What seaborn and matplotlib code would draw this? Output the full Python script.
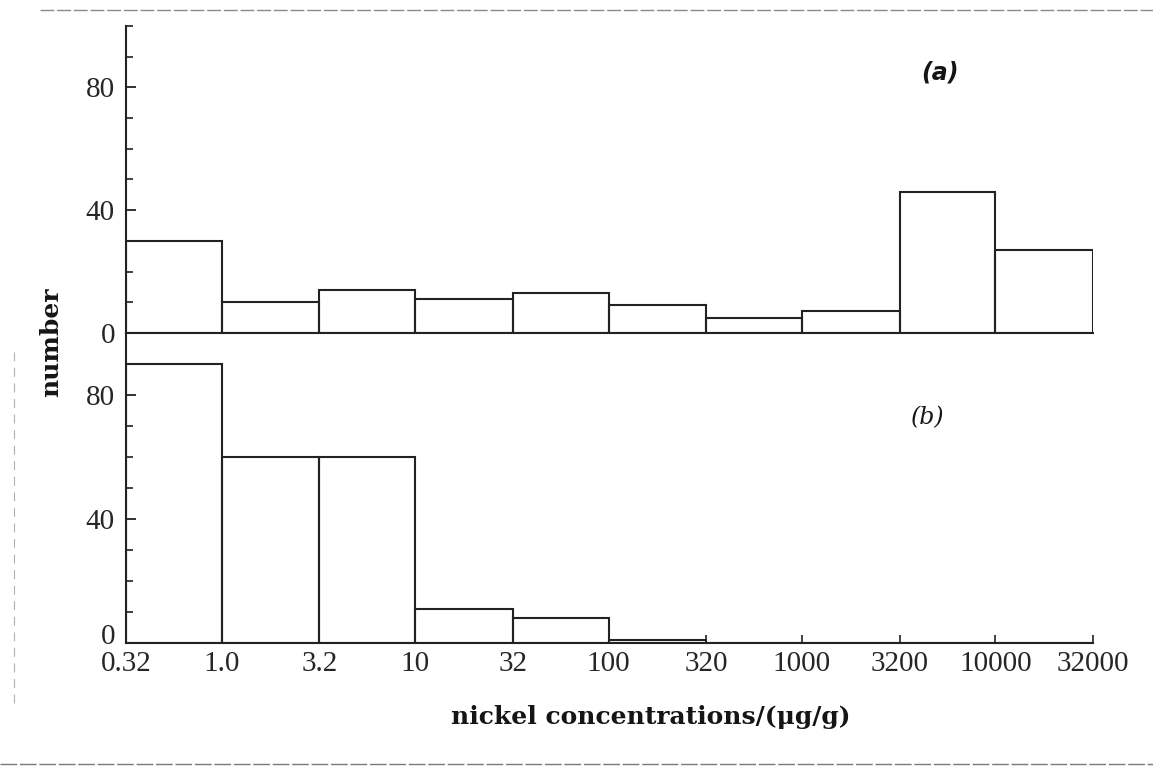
import numpy as np
import pandas as pd
import matplotlib
matplotlib.use("Agg")
import matplotlib.pyplot as plt
import matplotlib.transforms as mtransforms
from matplotlib.lines import Line2D
from matplotlib.ticker import FixedLocator, NullLocator, NullFormatter
import seaborn as sns

# Half-decade concentration classes (µg/g) and the number of samples in each
bin_edges = [0.32, 1.0, 3.2, 10, 32, 100, 320, 1000, 3200, 10000, 32000]
edge_labels = ["0.32", "1.0", "3.2", "10", "32", "100", "320", "1000", "3200", "10000", "32000"]
counts_a = [30, 10, 14, 11, 13, 9, 5, 7, 46, 27]
counts_b = [90, 60, 60, 11, 8, 1, 0, 0, 0, 0]
panel_labels = ["(a)", "(b)"]

sns.set_theme(style="white")
plt.rcParams["font.family"] = ["Liberation Serif", "DejaVu Serif"]
plt.rcParams["text.color"] = "#151515"

INK = "#222222"

fig = plt.figure(figsize=(11.53, 7.72), dpi=100)
ax_a = fig.add_axes([0.1093, 0.5687, 0.8387, 0.3977])
ax_b = fig.add_axes([0.1093, 0.1671, 0.8387, 0.4016])

edges = np.array(bin_edges, dtype=float)
mids = np.sqrt(edges[:-1] * edges[1:])
log_edges = [float(v) for v in np.log10(edges)]

for ax, counts in [(ax_a, counts_a), (ax_b, counts_b)]:
    df = pd.DataFrame({"conc": mids, "n": counts})
    sns.histplot(data=df, x="conc", weights="n", bins=log_edges,
                 log_scale=True, element="bars", fill=False,
                 color=INK, linewidth=1.5, ax=ax)
    ax.set_xlim(bin_edges[0], bin_edges[-1])
    ax.set_ylim(0, 100)
    ax.set_xlabel("")
    ax.set_ylabel("")
    ax.yaxis.set_major_locator(FixedLocator([0, 40, 80]))
    ax.yaxis.set_minor_locator(FixedLocator(list(range(0, 101, 10))))
    ax.tick_params(axis="y", which="major", direction="in", length=7, width=1.3,
                   color=INK, labelsize=21, pad=8, left=True)
    ax.tick_params(axis="y", which="minor", direction="in", length=5, width=1.2,
                   color=INK, left=True)
    ax.xaxis.set_minor_locator(NullLocator())
    for side in ["top", "right"]:
        ax.spines[side].set_visible(False)
    for side in ["left", "bottom"]:
        ax.spines[side].set_color(INK)
        ax.spines[side].set_linewidth(1.5)
    ax.set_facecolor("none")

# upper panel: no concentration ticks, baseline only
ax_a.xaxis.set_major_locator(NullLocator())
ax_a.xaxis.set_major_formatter(NullFormatter())

# lower panel carries the concentration scale
ax_b.xaxis.set_major_locator(FixedLocator(bin_edges))
ax_b.set_xticklabels(edge_labels)
ax_b.tick_params(axis="x", which="major", direction="in", length=6, width=1.2,
                 color=INK, labelsize=21, pad=6, bottom=True)

# lift the lower panel's zero label clear of the concentration labels
fig.canvas.draw()
zero_lbl = ax_b.get_yticklabels()[0]
zero_lbl.set_transform(zero_lbl.get_transform() +
                       mtransforms.ScaledTranslation(0, 9 / 100, fig.dpi_scale_trans))

ax_a.text(0.842, 0.847, panel_labels[0], transform=ax_a.transAxes, fontsize=17,
          family=["DejaVu Sans"], style="italic", fontweight="bold",
          ha="center", va="center")
ax_b.text(0.829, 0.726, panel_labels[1], transform=ax_b.transAxes, fontsize=17,
          family=["DejaVu Serif"], style="italic",
          ha="center", va="center")

fig.text(51 / 1153, 1 - 342 / 772, "number", rotation=90, ha="center", va="center",
         fontsize=18, fontweight="bold", family=["DejaVu Serif"])
fig.text(651 / 1153, 1 - 717 / 772, "nickel concentrations/(\u03bcg/g)",
         ha="center", va="center", fontsize=18, fontweight="bold",
         family=["DejaVu Serif"])

# page rules above and below the figure
fig.add_artist(Line2D([0.035, 1.0], [0.987, 0.987], transform=fig.transFigure,
                      color="#8a8a8a", linewidth=1.0, linestyle=(0, (10, 2))))
fig.add_artist(Line2D([0.0, 1.0], [0.011, 0.011], transform=fig.transFigure,
                      color="#7a7a7a", linewidth=1.0, linestyle=(0, (12, 2))))
fig.add_artist(Line2D([0.012, 0.012], [0.09, 0.55], transform=fig.transFigure,
                      color="#b0b0b0", linewidth=0.8, linestyle=(0, (8, 6))))

fig.savefig("out.png", dpi=100, facecolor="white")
